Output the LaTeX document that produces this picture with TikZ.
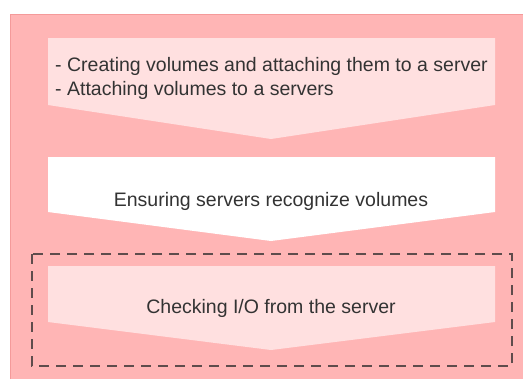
\documentclass[tikz,border=0pt]{standalone}
\usepackage{fontspec}
\setmainfont{Liberation Sans}
\definecolor{outerpink}{HTML}{FFB5B5}
\definecolor{outeredge}{HTML}{F49A9A}
\definecolor{lightpink}{HTML}{FFE0E0}
\definecolor{dashgray}{HTML}{5E4C4C}
\definecolor{txt}{HTML}{333333}
\tikzset{
  lbl/.style={font=\fontsize{19.5}{24}\selectfont, text=txt, inner sep=0pt},
}
\begin{document}
\begin{tikzpicture}[x=1pt,y=-1pt]
\useasboundingbox (0,0) rectangle (523,381);
% outer background
\fill[outerpink] (10,14) rectangle (530,379);
\draw[outeredge, line width=1.2pt] (10.5,379) -- (10.5,14.5) -- (530,14.5);
% step 1
\fill[lightpink] (48,38) -- (495,38) -- (495,105) -- (271,139) -- (48,105) -- cycle;
\node[lbl, anchor=base west] (l1) at (55,71) {- Creating volumes and attaching them to a server};
\node[lbl, anchor=base west] (l2) at (55,95) {- Attaching volumes to a servers};
% step 2
\fill[white] (48,157) -- (495,157) -- (495,212) -- (271,241) -- (48,212) -- cycle;
\node[lbl, anchor=base] (t2) at (271,206) {Ensuring servers recognize volumes};
% dashed group
\draw[dashgray, line width=2pt, dash pattern=on 10pt off 7pt] (32,254) rectangle (512,366);
% step 3
\fill[lightpink] (48,266) -- (495,266) -- (495,322) -- (271,350) -- (48,322) -- cycle;
\node[lbl, anchor=base] (t3) at (271,313) {Checking I/O from the server};
\end{tikzpicture}
\end{document}
